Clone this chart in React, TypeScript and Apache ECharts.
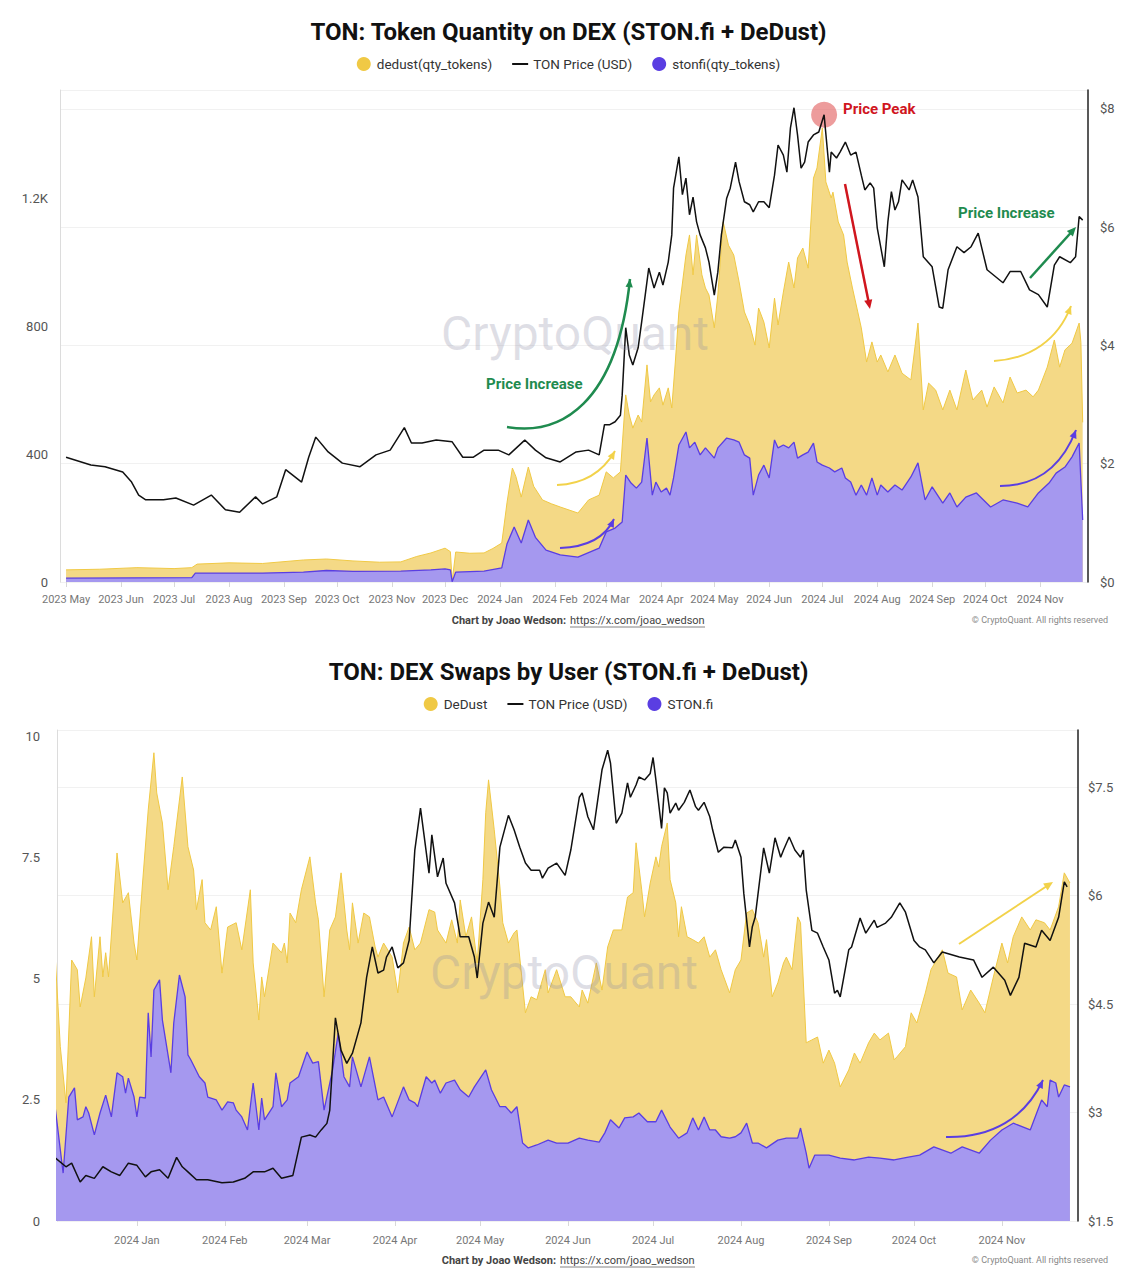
import React, { useEffect, useRef } from 'react';
import * as echarts from 'echarts';

type P = [string, number];

// ---------- Chart 1: Token Quantity on DEX ----------
const topDedust: P[] = [
  ['2023-05-01', 38], ['2023-05-20', 40], ['2023-06-10', 45], ['2023-07-01', 42], ['2023-07-11', 45], ['2023-07-14', 56],
  ['2023-08-01', 60], ['2023-08-20', 58], ['2023-09-12', 69], ['2023-09-25', 72], ['2023-10-10', 66], ['2023-10-25', 62],
  ['2023-11-06', 63], ['2023-11-15', 80], ['2023-11-23', 91], ['2023-12-01', 106], ['2023-12-04', 95], ['2023-12-05', 3],
  ['2023-12-07', 94], ['2023-12-15', 90], ['2023-12-23', 91], ['2023-12-28', 105], ['2024-01-02', 122], ['2024-01-05', 250],
  ['2024-01-08', 357], ['2024-01-10', 330], ['2024-01-13', 266], ['2024-01-17', 360], ['2024-01-20', 300], ['2024-01-25', 257],
  ['2024-01-30', 245], ['2024-02-04', 235], ['2024-02-14', 216], ['2024-02-20', 257], ['2024-02-26', 272], ['2024-03-01', 345],
  ['2024-03-05', 326], ['2024-03-09', 345], ['2024-03-12', 586], ['2024-03-14', 523], ['2024-03-16', 482], ['2024-03-19', 523],
  ['2024-03-21', 501], ['2024-03-24', 680], ['2024-03-26', 564], ['2024-03-28', 586], ['2024-03-31', 608], ['2024-04-02', 554],
  ['2024-04-05', 608], ['2024-04-07', 545], ['2024-04-09', 689], ['2024-04-11', 846], ['2024-04-15', 1024], ['2024-04-17', 1087],
  ['2024-04-19', 962], ['2024-04-21', 1087], ['2024-04-24', 962], ['2024-04-26', 921], ['2024-04-28', 899], ['2024-05-01', 796],
  ['2024-05-03', 899], ['2024-05-06', 1128], ['2024-05-09', 1055], ['2024-05-12', 1024], ['2024-05-15', 940], ['2024-05-18', 846],
  ['2024-05-21', 805], ['2024-05-24', 742], ['2024-05-26', 858], ['2024-05-29', 814], ['2024-06-01', 733], ['2024-06-04', 889],
  ['2024-06-06', 805], ['2024-06-09', 908], ['2024-06-12', 1002], ['2024-06-15', 921], ['2024-06-17', 1015], ['2024-06-20', 1046],
  ['2024-06-23', 983], ['2024-06-26', 1265], ['2024-06-28', 1297], ['2024-07-01', 1422], ['2024-07-03', 1253], ['2024-07-06', 1203],
  ['2024-07-07', 1221], ['2024-07-10', 1128], ['2024-07-13', 1087], ['2024-07-15', 1002], ['2024-07-18', 921], ['2024-07-21', 846],
  ['2024-07-23', 796], ['2024-07-26', 689], ['2024-07-29', 752], ['2024-08-01', 689], ['2024-08-03', 711], ['2024-08-07', 658],
  ['2024-08-11', 711], ['2024-08-15', 654], ['2024-08-20', 633], ['2024-08-24', 811], ['2024-08-27', 539], ['2024-08-30', 623],
  ['2024-09-03', 601], ['2024-09-07', 539], ['2024-09-11', 601], ['2024-09-15', 539], ['2024-09-20', 664], ['2024-09-24', 570],
  ['2024-09-29', 601], ['2024-10-02', 548], ['2024-10-06', 611], ['2024-10-11', 561], ['2024-10-15', 642], ['2024-10-19', 592],
  ['2024-10-24', 601], ['2024-10-28', 580], ['2024-10-31', 601], ['2024-11-05', 673], ['2024-11-09', 758], ['2024-11-12', 673],
  ['2024-11-15', 727], ['2024-11-19', 748], ['2024-11-23', 811], ['2024-11-24', 750], ['2024-11-25', 500],
];

const topStonfi: P[] = [
  ['2023-05-01', 12], ['2023-06-10', 13], ['2023-07-11', 14], ['2023-07-13', 28], ['2023-08-20', 28], ['2023-09-12', 31],
  ['2023-09-25', 36], ['2023-10-10', 33], ['2023-11-06', 34], ['2023-11-23', 38], ['2023-12-01', 41], ['2023-12-04', 38],
  ['2023-12-05', 1], ['2023-12-07', 31], ['2023-12-23', 34], ['2024-01-02', 44], ['2024-01-05', 120], ['2024-01-09', 172],
  ['2024-01-13', 122], ['2024-01-17', 194], ['2024-01-21', 140], ['2024-01-27', 100], ['2024-02-04', 85], ['2024-02-14', 78],
  ['2024-02-26', 106], ['2024-03-01', 157], ['2024-03-06', 169], ['2024-03-10', 188], ['2024-03-12', 335], ['2024-03-15', 310],
  ['2024-03-18', 294], ['2024-03-21', 313], ['2024-03-24', 451], ['2024-03-27', 272], ['2024-03-29', 313], ['2024-04-01', 282],
  ['2024-04-04', 294], ['2024-04-06', 272], ['2024-04-08', 326], ['2024-04-11', 429], ['2024-04-15', 470], ['2024-04-17', 420],
  ['2024-04-20', 438], ['2024-04-23', 398], ['2024-04-26', 420], ['2024-05-01', 388], ['2024-05-03', 420], ['2024-05-08', 451],
  ['2024-05-12', 445], ['2024-05-15', 438], ['2024-05-18', 398], ['2024-05-21', 388], ['2024-05-23', 272], ['2024-05-26', 335],
  ['2024-05-29', 366], ['2024-06-01', 326], ['2024-06-04', 445], ['2024-06-06', 420], ['2024-06-09', 429], ['2024-06-12', 420],
  ['2024-06-15', 438], ['2024-06-17', 388], ['2024-06-20', 398], ['2024-06-23', 407], ['2024-06-26', 435], ['2024-06-28', 376],
  ['2024-07-01', 366], ['2024-07-05', 357], ['2024-07-08', 345], ['2024-07-12', 357], ['2024-07-14', 326], ['2024-07-17', 313],
  ['2024-07-20', 272], ['2024-07-23', 304], ['2024-07-26', 272], ['2024-07-29', 326], ['2024-08-01', 272], ['2024-08-03', 304],
  ['2024-08-07', 282], ['2024-08-11', 304], ['2024-08-15', 288], ['2024-08-20', 329], ['2024-08-24', 373], ['2024-08-28', 257],
  ['2024-09-01', 298], ['2024-09-07', 247], ['2024-09-11', 279], ['2024-09-15', 235], ['2024-09-20', 266], ['2024-09-26', 279],
  ['2024-10-04', 235], ['2024-10-11', 257], ['2024-10-19', 247], ['2024-10-25', 235], ['2024-10-31', 279], ['2024-11-06', 310],
  ['2024-11-10', 341], ['2024-11-15', 360], ['2024-11-19', 392], ['2024-11-23', 435], ['2024-11-25', 194],
];

const topPrice: P[] = [
  ['2023-05-01', 2.11], ['2023-05-15', 1.98], ['2023-05-23', 1.95], ['2023-06-02', 1.86], ['2023-06-07', 1.69], ['2023-06-11', 1.47],
  ['2023-06-15', 1.39], ['2023-06-25', 1.39], ['2023-07-02', 1.42], ['2023-07-12', 1.30], ['2023-07-22', 1.47], ['2023-07-30', 1.22],
  ['2023-08-07', 1.18], ['2023-08-16', 1.44], ['2023-08-20', 1.32], ['2023-08-28', 1.44], ['2023-09-02', 1.90], ['2023-09-11', 1.69],
  ['2023-09-15', 2.11], ['2023-09-19', 2.45], ['2023-09-26', 2.20], ['2023-10-04', 2.01], ['2023-10-14', 1.95], ['2023-10-23', 2.15],
  ['2023-10-31', 2.23], ['2023-11-08', 2.61], ['2023-11-12', 2.35], ['2023-11-18', 2.35], ['2023-11-26', 2.40], ['2023-12-05', 2.37],
  ['2023-12-11', 2.11], ['2023-12-17', 2.11], ['2023-12-23', 2.23], ['2023-12-31', 2.23], ['2024-01-06', 2.15], ['2024-01-15', 2.40],
  ['2024-01-21', 2.23], ['2024-01-27', 2.10], ['2024-02-04', 2.03], ['2024-02-13', 2.20], ['2024-02-20', 2.23], ['2024-02-26', 2.15],
  ['2024-02-29', 2.66], ['2024-03-03', 2.66], ['2024-03-06', 2.71], ['2024-03-09', 2.82], ['2024-03-10', 3.16], ['2024-03-12', 4.30],
  ['2024-03-14', 3.84], ['2024-03-16', 3.67], ['2024-03-19', 3.96], ['2024-03-21', 4.40], ['2024-03-23', 4.85], ['2024-03-25', 5.31],
  ['2024-03-28', 4.97], ['2024-03-31', 5.24], ['2024-04-02', 5.02], ['2024-04-05', 5.41], ['2024-04-07', 5.87], ['2024-04-08', 6.66],
  ['2024-04-11', 7.19], ['2024-04-13', 6.55], ['2024-04-15', 6.83], ['2024-04-17', 6.21], ['2024-04-19', 6.51], ['2024-04-21', 6.09],
  ['2024-04-23', 5.87], ['2024-04-26', 5.65], ['2024-04-28', 5.41], ['2024-05-01', 4.85], ['2024-05-03', 5.24], ['2024-05-05', 5.87],
  ['2024-05-08', 6.49], ['2024-05-10', 6.66], ['2024-05-13', 7.10], ['2024-05-15', 6.77], ['2024-05-18', 6.43], ['2024-05-21', 6.38],
  ['2024-05-23', 6.26], ['2024-05-26', 6.43], ['2024-05-29', 6.43], ['2024-06-01', 6.33], ['2024-06-04', 6.88], ['2024-06-06', 7.39],
  ['2024-06-09', 7.22], ['2024-06-11', 6.93], ['2024-06-13', 7.68], ['2024-06-15', 8.02], ['2024-06-17', 7.56], ['2024-06-19', 7.00],
  ['2024-06-21', 7.10], ['2024-06-23', 7.44], ['2024-06-26', 7.56], ['2024-06-29', 7.61], ['2024-07-02', 7.90], ['2024-07-05', 6.93],
  ['2024-07-06', 7.27], ['2024-07-09', 7.17], ['2024-07-11', 7.27], ['2024-07-14', 7.44], ['2024-07-17', 7.22], ['2024-07-20', 7.27],
  ['2024-07-23', 6.88], ['2024-07-25', 6.63], ['2024-07-28', 6.75], ['2024-07-30', 6.66], ['2024-08-01', 5.99], ['2024-08-05', 5.33],
  ['2024-08-07', 6.09], ['2024-08-09', 6.60], ['2024-08-11', 6.29], ['2024-08-13', 6.43], ['2024-08-15', 6.80], ['2024-08-19', 6.63],
  ['2024-08-21', 6.80], ['2024-08-24', 6.51], ['2024-08-27', 5.50], ['2024-09-01', 5.33], ['2024-09-05', 4.65], ['2024-09-07', 4.63],
  ['2024-09-10', 5.28], ['2024-09-15', 5.67], ['2024-09-19', 5.57], ['2024-09-23', 5.67], ['2024-09-27', 5.90], ['2024-10-02', 5.28],
  ['2024-10-11', 5.06], ['2024-10-15', 5.25], ['2024-10-21', 5.25], ['2024-10-26', 4.94], ['2024-10-31', 4.86], ['2024-11-05', 4.65],
  ['2024-11-09', 5.36], ['2024-11-12', 5.50], ['2024-11-18', 5.40], ['2024-11-21', 5.50], ['2024-11-23', 6.18], ['2024-11-25', 6.12],
];

// ---------- Chart 2: DEX Swaps by User ----------
const swapsDedust: P[] = [
  ['2023-12-03', 5.67], ['2023-12-05', 3.60], ['2023-12-07', 2.44], ['2023-12-09', 5.39], ['2023-12-11', 5.19], ['2023-12-12', 4.42],
  ['2023-12-14', 5.02], ['2023-12-16', 5.87], ['2023-12-17', 4.63], ['2023-12-19', 5.87], ['2023-12-20', 5.04], ['2023-12-21', 5.54],
  ['2023-12-22', 5.04], ['2023-12-25', 7.60], ['2023-12-27', 6.57], ['2023-12-29', 6.78], ['2023-12-31', 5.74], ['2024-01-01', 5.39],
  ['2024-01-03', 6.98], ['2024-01-05', 8.49], ['2024-01-07', 9.67], ['2024-01-08', 8.84], ['2024-01-10', 8.22], ['2024-01-12', 6.84],
  ['2024-01-14', 7.73], ['2024-01-17', 9.17], ['2024-01-19', 7.73], ['2024-01-21', 7.25], ['2024-01-22', 6.43], ['2024-01-24', 7.05],
  ['2024-01-25', 6.16], ['2024-01-27', 6.01], ['2024-01-29', 6.49], ['2024-01-31', 5.12], ['2024-02-02', 6.07], ['2024-02-05', 6.16],
  ['2024-02-07', 5.60], ['2024-02-10', 6.84], ['2024-02-11', 5.33], ['2024-02-13', 4.15], ['2024-02-14', 5.04], ['2024-02-15', 4.63],
  ['2024-02-18', 5.74], ['2024-02-21', 5.54], ['2024-02-22', 5.74], ['2024-02-23', 5.33], ['2024-02-24', 6.36], ['2024-02-26', 6.16],
  ['2024-02-28', 6.84], ['2024-03-02', 7.52], ['2024-03-04', 6.57], ['2024-03-05', 6.22], ['2024-03-07', 4.63], ['2024-03-09', 6.01],
  ['2024-03-11', 6.28], ['2024-03-13', 7.19], ['2024-03-15', 6.01], ['2024-03-16', 5.60], ['2024-03-17', 6.57], ['2024-03-19', 5.74],
  ['2024-03-21', 6.36], ['2024-03-23', 6.28], ['2024-03-25', 5.66], ['2024-03-26', 5.45], ['2024-03-28', 5.74], ['2024-03-31', 5.45],
  ['2024-04-02', 4.71], ['2024-04-04', 5.74], ['2024-04-06', 6.07], ['2024-04-08', 5.60], ['2024-04-10', 5.74], ['2024-04-13', 6.43],
  ['2024-04-15', 6.38], ['2024-04-16', 6.01], ['2024-04-19', 5.74], ['2024-04-21', 6.22], ['2024-04-23', 5.74], ['2024-04-24', 6.63],
  ['2024-04-26', 5.87], ['2024-04-28', 6.28], ['2024-04-30', 5.33], ['2024-05-02', 7.05], ['2024-05-03', 8.43], ['2024-05-04', 9.11],
  ['2024-05-06', 8.08], ['2024-05-08', 6.90], ['2024-05-09', 6.16], ['2024-05-11', 5.74], ['2024-05-13', 5.95], ['2024-05-14', 6.01],
  ['2024-05-17', 4.30], ['2024-05-19', 4.63], ['2024-05-21', 4.57], ['2024-05-24', 5.19], ['2024-05-25', 4.71], ['2024-05-28', 5.19],
  ['2024-05-31', 4.63], ['2024-06-02', 4.63], ['2024-06-05', 4.42], ['2024-06-06', 4.77], ['2024-06-08', 4.50], ['2024-06-11', 5.33],
  ['2024-06-13', 4.77], ['2024-06-15', 5.66], ['2024-06-17', 6.01], ['2024-06-20', 6.01], ['2024-06-22', 6.69], ['2024-06-24', 6.78],
  ['2024-06-25', 7.81], ['2024-06-27', 6.84], ['2024-06-28', 6.28], ['2024-06-30', 6.98], ['2024-07-02', 7.52], ['2024-07-03', 7.31],
  ['2024-07-04', 7.73], ['2024-07-06', 8.22], ['2024-07-07', 7.05], ['2024-07-09', 6.57], ['2024-07-10', 5.87], ['2024-07-11', 6.49],
  ['2024-07-13', 5.87], ['2024-07-15', 5.81], ['2024-07-17', 5.74], ['2024-07-19', 5.87], ['2024-07-21', 5.45], ['2024-07-23', 5.60],
  ['2024-07-25', 5.19], ['2024-07-28', 4.71], ['2024-07-30', 5.19], ['2024-08-01', 5.39], ['2024-08-03', 6.36], ['2024-08-05', 6.43],
  ['2024-08-07', 6.16], ['2024-08-09', 5.45], ['2024-08-10', 5.81], ['2024-08-12', 4.63], ['2024-08-14', 4.92], ['2024-08-16', 5.33],
  ['2024-08-17', 5.45], ['2024-08-19', 5.19], ['2024-08-21', 6.28], ['2024-08-22', 6.16], ['2024-08-24', 3.68], ['2024-08-26', 3.74],
  ['2024-08-28', 3.80], ['2024-08-30', 3.26], ['2024-09-01', 3.53], ['2024-09-03', 3.26], ['2024-09-05', 2.77], ['2024-09-08', 3.12],
  ['2024-09-10', 3.47], ['2024-09-12', 3.26], ['2024-09-15', 3.68], ['2024-09-17', 3.88], ['2024-09-19', 3.74], ['2024-09-22', 3.88],
  ['2024-09-24', 3.33], ['2024-09-25', 3.39], ['2024-09-28', 3.60], ['2024-09-30', 4.30], ['2024-10-02', 4.09], ['2024-10-05', 4.71],
  ['2024-10-07', 5.19], ['2024-10-11', 5.60], ['2024-10-13', 5.12], ['2024-10-16', 5.04], ['2024-10-18', 4.36], ['2024-10-21', 4.77],
  ['2024-10-24', 4.50], ['2024-10-26', 4.30], ['2024-10-29', 5.04], ['2024-11-01', 5.74], ['2024-11-03', 5.33], ['2024-11-05', 5.87],
  ['2024-11-08', 6.28], ['2024-11-11', 6.01], ['2024-11-13', 6.22], ['2024-11-16', 6.16], ['2024-11-18', 6.01], ['2024-11-21', 6.49],
  ['2024-11-23', 7.19], ['2024-11-25', 6.98],
];

const swapsStonfi: P[] = [
  ['2023-12-03', 2.44], ['2023-12-06', 0.99], ['2023-12-08', 2.56], ['2023-12-10', 2.75], ['2023-12-11', 2.09], ['2023-12-13', 2.15],
  ['2023-12-14', 2.36], ['2023-12-15', 2.23], ['2023-12-17', 1.78], ['2023-12-19', 2.23], ['2023-12-21', 2.60], ['2023-12-23', 2.15],
  ['2023-12-25', 3.06], ['2023-12-27', 2.98], ['2023-12-28', 2.64], ['2023-12-29', 2.95], ['2023-12-31', 2.56], ['2024-01-01', 2.15],
  ['2024-01-02', 2.56], ['2024-01-04', 2.54], ['2024-01-05', 4.30], ['2024-01-06', 3.39], ['2024-01-07', 4.77], ['2024-01-09', 4.98],
  ['2024-01-10', 4.15], ['2024-01-13', 3.06], ['2024-01-14', 4.09], ['2024-01-16', 5.08], ['2024-01-18', 4.63], ['2024-01-19', 3.43],
  ['2024-01-20', 3.33], ['2024-01-23', 2.98], ['2024-01-25', 2.85], ['2024-01-26', 2.56], ['2024-01-29', 2.50], ['2024-01-31', 2.29],
  ['2024-02-02', 2.46], ['2024-02-04', 2.44], ['2024-02-05', 2.29], ['2024-02-07', 2.15], ['2024-02-09', 1.88], ['2024-02-11', 2.85],
  ['2024-02-13', 1.88], ['2024-02-14', 2.54], ['2024-02-15', 2.09], ['2024-02-18', 2.36], ['2024-02-19', 3.06], ['2024-02-21', 2.36],
  ['2024-02-23', 2.50], ['2024-02-24', 2.85], ['2024-02-27', 2.98], ['2024-03-01', 3.49], ['2024-03-03', 3.26], ['2024-03-05', 3.29],
  ['2024-03-07', 2.29], ['2024-03-10', 3.12], ['2024-03-12', 3.88], ['2024-03-14', 2.98], ['2024-03-16', 2.77], ['2024-03-17', 3.39],
  ['2024-03-20', 2.77], ['2024-03-23', 3.39], ['2024-03-26', 2.50], ['2024-03-28', 2.56], ['2024-03-31', 2.15], ['2024-04-04', 2.77],
  ['2024-04-06', 2.50], ['2024-04-08', 2.44], ['2024-04-09', 2.36], ['2024-04-12', 2.98], ['2024-04-14', 2.85], ['2024-04-15', 2.91],
  ['2024-04-17', 2.64], ['2024-04-19', 2.85], ['2024-04-22', 2.91], ['2024-04-24', 2.71], ['2024-04-27', 2.56], ['2024-04-29', 2.77],
  ['2024-05-03', 3.12], ['2024-05-05', 2.71], ['2024-05-08', 2.36], ['2024-05-10', 2.36], ['2024-05-12', 2.23], ['2024-05-14', 2.36],
  ['2024-05-16', 1.61], ['2024-05-18', 1.51], ['2024-05-21', 1.57], ['2024-05-25', 1.67], ['2024-05-28', 1.61], ['2024-06-01', 1.61],
  ['2024-06-05', 1.71], ['2024-06-08', 1.67], ['2024-06-12', 1.63], ['2024-06-14', 1.82], ['2024-06-16', 2.09], ['2024-06-19', 1.92],
  ['2024-06-21', 2.13], ['2024-06-24', 2.15], ['2024-06-26', 2.23], ['2024-06-29', 2.05], ['2024-07-02', 2.05], ['2024-07-04', 2.29],
  ['2024-07-07', 1.94], ['2024-07-10', 1.71], ['2024-07-13', 1.82], ['2024-07-15', 2.13], ['2024-07-17', 1.88], ['2024-07-19', 2.15],
  ['2024-07-21', 1.88], ['2024-07-23', 1.88], ['2024-07-25', 1.74], ['2024-07-28', 1.71], ['2024-07-30', 1.74], ['2024-08-01', 1.82],
  ['2024-08-03', 2.02], ['2024-08-05', 1.61], ['2024-08-07', 1.61], ['2024-08-10', 1.51], ['2024-08-14', 1.67], ['2024-08-17', 1.71],
  ['2024-08-21', 1.71], ['2024-08-22', 1.92], ['2024-08-24', 1.40], ['2024-08-25', 1.09], ['2024-08-27', 1.36], ['2024-09-01', 1.36],
  ['2024-09-05', 1.30], ['2024-09-10', 1.26], ['2024-09-15', 1.32], ['2024-09-19', 1.30], ['2024-09-24', 1.26], ['2024-09-29', 1.32],
  ['2024-10-03', 1.36], ['2024-10-08', 1.53], ['2024-10-14', 1.40], ['2024-10-18', 1.53], ['2024-10-24', 1.40], ['2024-10-28', 1.67],
  ['2024-11-01', 1.88], ['2024-11-05', 2.02], ['2024-11-11', 1.88], ['2024-11-15', 2.50], ['2024-11-17', 2.36], ['2024-11-18', 2.91],
  ['2024-11-20', 2.85], ['2024-11-21', 2.56], ['2024-11-23', 2.81], ['2024-11-25', 2.77],
];

const swapsPrice: P[] = [
  ['2023-12-03', 2.38], ['2023-12-07', 2.25], ['2023-12-09', 2.30], ['2023-12-12', 2.04], ['2023-12-14', 2.13], ['2023-12-17', 2.09],
  ['2023-12-20', 2.25], ['2023-12-23', 2.18], ['2023-12-26', 2.13], ['2023-12-29', 2.30], ['2024-01-01', 2.27], ['2024-01-04', 2.11],
  ['2024-01-06', 2.18], ['2024-01-09', 2.21], ['2024-01-12', 2.09], ['2024-01-15', 2.38], ['2024-01-17', 2.25], ['2024-01-19', 2.18],
  ['2024-01-22', 2.07], ['2024-01-26', 2.07], ['2024-01-31', 2.03], ['2024-02-04', 2.04], ['2024-02-08', 2.09], ['2024-02-11', 2.18],
  ['2024-02-15', 2.18], ['2024-02-18', 2.23], ['2024-02-21', 2.09], ['2024-02-25', 2.13], ['2024-02-28', 2.66], ['2024-03-02', 2.69],
  ['2024-03-04', 2.66], ['2024-03-06', 2.76], ['2024-03-08', 2.85], ['2024-03-09', 3.03], ['2024-03-11', 4.31], ['2024-03-13', 3.86],
  ['2024-03-15', 3.68], ['2024-03-17', 3.82], ['2024-03-20', 4.24], ['2024-03-22', 4.87], ['2024-03-24', 5.29], ['2024-03-26', 4.93],
  ['2024-03-28', 4.97], ['2024-03-29', 5.15], ['2024-03-31', 5.29], ['2024-04-02', 5.00], ['2024-04-04', 5.07], ['2024-04-06', 5.38],
  ['2024-04-08', 6.63], ['2024-04-10', 7.21], ['2024-04-13', 6.31], ['2024-04-14', 6.84], ['2024-04-16', 6.26], ['2024-04-18', 6.52],
  ['2024-04-19', 6.17], ['2024-04-22', 5.90], ['2024-04-24', 5.43], ['2024-04-27', 5.43], ['2024-04-29', 5.15], ['2024-04-30', 4.86],
  ['2024-05-02', 5.62], ['2024-05-04', 5.91], ['2024-05-06', 5.70], ['2024-05-08', 6.67], ['2024-05-11', 7.11], ['2024-05-13', 6.91],
  ['2024-05-15', 6.67], ['2024-05-17', 6.45], ['2024-05-19', 6.35], ['2024-05-22', 6.35], ['2024-05-23', 6.24], ['2024-05-25', 6.38],
  ['2024-05-28', 6.45], ['2024-05-31', 6.28], ['2024-06-02', 6.63], ['2024-06-05', 7.36], ['2024-06-06', 7.42], ['2024-06-08', 7.09],
  ['2024-06-10', 6.91], ['2024-06-13', 7.74], ['2024-06-15', 8.01], ['2024-06-16', 7.83], ['2024-06-18', 7.00], ['2024-06-20', 7.14],
  ['2024-06-22', 7.56], ['2024-06-23', 7.36], ['2024-06-25', 7.53], ['2024-06-26', 7.64], ['2024-06-28', 7.60], ['2024-06-30', 7.69],
  ['2024-07-01', 7.91], ['2024-07-02', 7.60], ['2024-07-04', 6.93], ['2024-07-05', 7.49], ['2024-07-06', 7.42], ['2024-07-07', 7.14],
  ['2024-07-09', 7.28], ['2024-07-10', 7.18], ['2024-07-12', 7.29], ['2024-07-14', 7.46], ['2024-07-16', 7.23], ['2024-07-17', 7.18],
  ['2024-07-19', 7.29], ['2024-07-21', 7.09], ['2024-07-22', 6.91], ['2024-07-24', 6.60], ['2024-07-26', 6.67], ['2024-07-29', 6.66],
  ['2024-07-30', 6.77], ['2024-08-01', 6.53], ['2024-08-02', 6.03], ['2024-08-04', 5.29], ['2024-08-05', 5.57], ['2024-08-06', 5.70],
  ['2024-08-09', 6.66], ['2024-08-11', 6.31], ['2024-08-13', 6.80], ['2024-08-15', 6.53], ['2024-08-16', 6.63], ['2024-08-18', 6.81],
  ['2024-08-20', 6.63], ['2024-08-22', 6.53], ['2024-08-23', 6.63], ['2024-08-24', 6.08], ['2024-08-26', 5.52], ['2024-08-28', 5.48],
  ['2024-08-30', 5.29], ['2024-09-01', 5.11], ['2024-09-03', 4.65], ['2024-09-04', 4.69], ['2024-09-05', 4.60], ['2024-09-08', 5.25],
  ['2024-09-09', 5.29], ['2024-09-12', 5.69], ['2024-09-14', 5.48], ['2024-09-17', 5.66], ['2024-09-18', 5.56], ['2024-09-21', 5.62],
  ['2024-09-23', 5.70], ['2024-09-26', 5.90], ['2024-09-28', 5.77], ['2024-10-01', 5.38], ['2024-10-03', 5.29], ['2024-10-05', 5.25],
  ['2024-10-08', 5.07], ['2024-10-11', 5.22], ['2024-10-17', 5.15], ['2024-10-22', 5.11], ['2024-10-25', 4.87], ['2024-10-29', 5.01],
  ['2024-11-02', 4.83], ['2024-11-04', 4.62], ['2024-11-07', 4.87], ['2024-11-09', 5.34], ['2024-11-13', 5.29], ['2024-11-15', 5.52],
  ['2024-11-18', 5.38], ['2024-11-21', 5.70], ['2024-11-23', 6.19], ['2024-11-24', 6.12],
];

const MONTHS = ['Jan', 'Feb', 'Mar', 'Apr', 'May', 'Jun', 'Jul', 'Aug', 'Sep', 'Oct', 'Nov', 'Dec'];
const FONT = 'Roboto, "Noto Sans", Arial, sans-serif';

const YELLOW_FILL = '#f4d986';
const YELLOW_LINE = '#f0c945';
const PURPLE_FILL = '#a598ef';
const PURPLE_LINE = '#5a3ee2';
const GREEN = '#1f8b4f';
const RED = '#d0161e';
const LINE_ICON = 'path://M0,0M0,6H16V8H0ZM16,14';

function arrowHead(tx: number, ty: number, fx: number, fy: number, size: number, color: string) {
  const ang = Math.atan2(ty - fy, tx - fx);
  const a1 = ang + Math.PI - 0.42;
  const a2 = ang + Math.PI + 0.42;
  return {
    type: 'polygon', z: 100,
    shape: { points: [[tx, ty], [tx + size * Math.cos(a1), ty + size * Math.sin(a1)], [tx + size * Math.cos(a2), ty + size * Math.sin(a2)]] },
    style: { fill: color },
  };
}

function curveArrow(p0: number[], c1: number[], c2: number[], p3: number[], color: string, width: number) {
  return [
    {
      type: 'bezierCurve', z: 100,
      shape: { x1: p0[0], y1: p0[1], cpx1: c1[0], cpy1: c1[1], cpx2: c2[0], cpy2: c2[1], x2: p3[0], y2: p3[1] },
      style: { stroke: color, lineWidth: width, fill: null },
    },
    arrowHead(p3[0], p3[1], c2[0], c2[1], 9, color),
  ];
}

function straightArrow(p0: number[], p1: number[], color: string, width: number) {
  const ang = Math.atan2(p1[1] - p0[1], p1[0] - p0[0]);
  return [
    {
      type: 'line', z: 100,
      shape: { x1: p0[0], y1: p0[1], x2: p1[0] - 5 * Math.cos(ang), y2: p1[1] - 5 * Math.sin(ang) },
      style: { stroke: color, lineWidth: width },
    },
    arrowHead(p1[0], p1[1], p0[0], p0[1], 10, color),
  ];
}

function footer(y: number, cx: number, linkEnd: number) {
  return [
    {
      type: 'text', x: cx - 2, y, z: 100,
      style: { text: 'Chart by Joao Wedson:', fill: '#444', fontSize: 11, fontWeight: 'bold', fontFamily: FONT, textAlign: 'right', textVerticalAlign: 'middle' },
    },
    {
      type: 'text', x: cx + 2, y, z: 100,
      style: { text: 'https://x.com/joao_wedson', fill: '#444', fontSize: 11, fontFamily: FONT, textAlign: 'left', textVerticalAlign: 'middle' },
    },
    { type: 'line', z: 100, shape: { x1: cx + 2, y1: y + 7, x2: linkEnd, y2: y + 7 }, style: { stroke: '#666', lineWidth: 0.8 } },
    {
      type: 'text', x: 1108, y, z: 100,
      style: { text: '© CryptoQuant. All rights reserved', fill: '#888', fontSize: 9, fontFamily: FONT, textAlign: 'right', textVerticalAlign: 'middle' },
    },
  ];
}

function watermark(x: number, y: number) {
  return {
    type: 'text', x, y, z: 50,
    style: { text: 'CryptoQuant', fill: 'rgba(140,140,165,0.28)', fontSize: 48, fontFamily: FONT, textAlign: 'center', textVerticalAlign: 'middle' },
  };
}

const monthLabel = (v: number) => {
  const d = new Date(v);
  return d.getFullYear() + ' ' + MONTHS[d.getMonth()];
};

function areaSeries(name: string, data: P[], xi: number, yi: number, fill: string, line: string, lw: number, z: number) {
  return {
    name, type: 'line', xAxisIndex: xi, yAxisIndex: yi, data, symbol: 'none', showSymbol: false, z,
    lineStyle: { color: line, width: lw }, itemStyle: { color: line }, areaStyle: { color: fill, opacity: 1 },
  };
}

function priceSeries(data: P[], xi: number, yi: number, extra: any = {}) {
  return {
    name: 'TON Price (USD)', type: 'line', xAxisIndex: xi, yAxisIndex: yi, data, symbol: 'none', showSymbol: false, z: 5,
    lineStyle: { color: '#111', width: 1.5 }, itemStyle: { color: '#111' }, ...extra,
  };
}

export default function App() {
  const ref = useRef<HTMLDivElement>(null);
  useEffect(() => {
    if (!ref.current) return;
    const chart = echarts.init(ref.current, undefined, { renderer: 'svg' });
    const xAxisBase = {
      type: 'time',
      axisLine: { show: false },
      axisTick: { show: true, length: 5, lineStyle: { color: '#d8d8d8' } },
      splitLine: { show: false },
      axisLabel: { formatter: monthLabel, color: '#777', fontSize: 11, fontFamily: FONT, showMinLabel: false, showMaxLabel: false, margin: 12 },
    };
    const legendBase = {
      left: 'center', itemGap: 20, itemWidth: 16, itemHeight: 14, selectedMode: false,
      textStyle: { fontSize: 13.5, color: '#333', fontFamily: FONT },
    };
    const option: any = {
      animation: false,
      backgroundColor: '#ffffff',
      textStyle: { fontFamily: FONT },
      title: [
        { text: 'TON: Token Quantity on DEX (STON.fi + DeDust)', left: 'center', top: 15, textStyle: { fontSize: 24, fontWeight: 'bold', color: '#111', fontFamily: FONT } },
        { text: 'TON: DEX Swaps by User (STON.fi + DeDust)', left: 'center', top: 655, textStyle: { fontSize: 24, fontWeight: 'bold', color: '#111', fontFamily: FONT } },
      ],
      legend: [
        {
          ...legendBase, top: 52,
          data: [
            { name: 'dedust(qty_tokens)', icon: 'circle' },
            { name: 'TON Price (USD)', icon: LINE_ICON, itemStyle: { color: '#111' } },
            { name: 'stonfi(qty_tokens)', icon: 'circle' },
          ],
        },
        {
          ...legendBase, top: 692,
          data: [
            { name: 'DeDust', icon: 'circle' },
            { name: 'TON Price (USD)', icon: LINE_ICON, itemStyle: { color: '#111' } },
            { name: 'STON.fi', icon: 'circle' },
          ],
        },
      ],
      grid: [
        { left: 60, right: 49, top: 90, height: 492 },
        { left: 57, right: 59, top: 730, height: 491 },
      ],
      xAxis: [
        { ...xAxisBase, gridIndex: 0, min: '2023-04-27 14:00', max: '2024-11-28 00:00', splitNumber: 19 },
        { ...xAxisBase, gridIndex: 1, min: '2023-12-03 20:00', max: '2024-11-27 20:00', splitNumber: 12,
          axisLabel: { ...xAxisBase.axisLabel, margin: 14 } },
      ],
      yAxis: [
        {
          type: 'value', gridIndex: 0, position: 'left', min: 0, max: 1541, interval: 400,
          axisLine: { show: true, lineStyle: { color: '#dcdcdc' } }, axisTick: { show: false }, splitLine: { show: false },
          axisLabel: { showMaxLabel: false, color: '#555', fontSize: 13, margin: 12, formatter: (v: number) => (v >= 1000 ? v / 1000 + 'K' : String(v)) },
        },
        {
          type: 'value', gridIndex: 0, position: 'right', min: 0, max: 8.32, interval: 2,
          axisLine: { show: true, lineStyle: { color: '#222', width: 1.5 } }, axisTick: { show: false },
          splitLine: { show: true, lineStyle: { color: '#f1f1f1' } },
          axisLabel: { showMaxLabel: false, color: '#555', fontSize: 13, margin: 12, formatter: (v: number) => '$' + v },
        },
        {
          type: 'value', gridIndex: 1, position: 'left', min: 0, max: 10.14, interval: 2.5,
          axisLine: { show: true, lineStyle: { color: '#dcdcdc' } }, axisTick: { show: false }, splitLine: { show: false },
          axisLabel: { showMaxLabel: false, color: '#555', fontSize: 13, margin: 17 },
        },
        {
          type: 'value', gridIndex: 1, position: 'right', min: 1.5, max: 8.29, interval: 1.5,
          axisLine: { show: true, lineStyle: { color: '#222', width: 1.5 } }, axisTick: { show: false },
          splitLine: { show: true, lineStyle: { color: '#f1f1f1' } },
          axisLabel: { showMaxLabel: false, color: '#555', fontSize: 13, margin: 10, formatter: (v: number) => '$' + v },
        },
      ],
      series: [
        areaSeries('dedust(qty_tokens)', topDedust, 0, 0, YELLOW_FILL, YELLOW_LINE, 1, 1),
        areaSeries('stonfi(qty_tokens)', topStonfi, 0, 0, PURPLE_FILL, PURPLE_LINE, 1.3, 2),
        priceSeries(topPrice, 0, 1, {
          markPoint: {
            symbol: 'circle', symbolSize: 26, silent: true,
            itemStyle: { color: 'rgba(226,96,96,0.62)' }, label: { show: false },
            data: [{ coord: ['2024-07-02', 7.90] }],
          },
        }),
        areaSeries('DeDust', swapsDedust, 1, 2, YELLOW_FILL, YELLOW_LINE, 1, 1),
        areaSeries('STON.fi', swapsStonfi, 1, 2, PURPLE_FILL, PURPLE_LINE, 1.3, 2),
        priceSeries(swapsPrice, 1, 3),
      ],
      graphic: [
        watermark(575, 333),
        watermark(564, 972),
        // top chart annotations
        { type: 'text', x: 486, y: 384, z: 100, style: { text: 'Price Increase', fill: GREEN, fontSize: 15, fontWeight: 'bold', fontFamily: FONT, textAlign: 'left', textVerticalAlign: 'middle' } },
        ...curveArrow([507, 427], [560, 436], [617, 405], [630, 279], GREEN, 2.5),
        ...curveArrow([557, 485], [585, 484], [604, 470], [615, 451], '#f2d24a', 2),
        ...curveArrow([560, 548], [590, 547], [606, 536], [614, 519], PURPLE_LINE, 2),
        { type: 'text', x: 843, y: 109, z: 100, style: { text: 'Price Peak', fill: RED, fontSize: 15, fontWeight: 'bold', fontFamily: FONT, textAlign: 'left', textVerticalAlign: 'middle' } },
        ...straightArrow([845, 184], [870, 309], RED, 2.5),
        { type: 'text', x: 958, y: 213, z: 100, style: { text: 'Price Increase', fill: GREEN, fontSize: 15, fontWeight: 'bold', fontFamily: FONT, textAlign: 'left', textVerticalAlign: 'middle' } },
        ...straightArrow([1030, 278], [1076, 227], GREEN, 2.5),
        ...curveArrow([994, 361], [1030, 359], [1058, 340], [1071, 306], '#f2d24a', 2),
        ...curveArrow([1000, 486], [1037, 486], [1062, 466], [1076, 430], PURPLE_LINE, 2),
        // bottom chart annotations
        ...straightArrow([959, 944], [1053, 882], '#f2d24a', 2),
        ...curveArrow([946, 1137], [992, 1138], [1025, 1118], [1043, 1080], PURPLE_LINE, 2),
        ...footer(620, 568, 705),
        ...footer(1260, 558, 695),
      ],
    };
    chart.setOption(option);
    return () => chart.dispose();
  }, []);
  return <div ref={ref} style={{ position: 'absolute', left: 0, top: 0, width: 1137, height: 1280, background: '#fff' }} />;
}
